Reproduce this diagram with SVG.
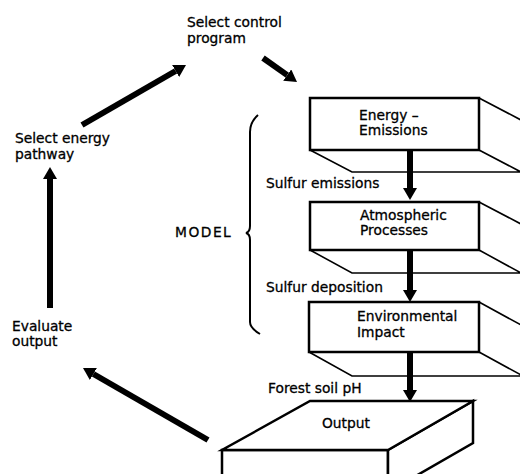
<svg xmlns="http://www.w3.org/2000/svg" width="520" height="474" viewBox="0 0 520 474">
<defs>
<marker id="head" viewBox="0 0 12 14" refX="0" refY="7" markerUnits="userSpaceOnUse" markerWidth="12" markerHeight="14" orient="auto">
<path d="M0,0 L12,7 L0,14 z" fill="#000"/>
</marker>
<style>
text{font-family:"DejaVu Sans","Liberation Sans",sans-serif;font-size:13.8px;fill:#000;stroke:#000;stroke-width:0.3}
.face{fill:#fff;stroke:#000;stroke-width:2.5;stroke-linejoin:miter}
.ext{fill:none;stroke:#000;stroke-width:1.6}
.arr{fill:none;stroke:#000;stroke-width:6;marker-end:url(#head)}
.brace{fill:none;stroke:#000;stroke-width:2}
</style>
</defs>
<rect width="520" height="474" fill="#fff"/>

<g id="connectors">
<line class="arr" x1="50" y1="308" x2="50" y2="179"/>
<line class="arr" x1="82" y1="125" x2="175.6" y2="71"/>
<line class="arr" x1="263" y1="58" x2="287.2" y2="75.1"/>
<line class="arr" x1="208" y1="440" x2="93.4" y2="374"/>
</g>

<g id="box-energy">
<path class="ext" d="M310,150 L352,172 L530,172 M479,150 L521,172 M479,98 L521,120"/>
<rect class="face" x="310" y="98" width="169" height="52"/>
<text x="359" y="120">Energy  –</text>
<text x="359" y="135">Emissions</text>
</g>

<g id="box-atmos">
<path class="ext" d="M310,250 L352,273 L530,273 M479,250 L521,273 M479,202 L521,224"/>
<rect class="face" x="310" y="202" width="169" height="48"/>
<text x="360" y="220">Atmospheric</text>
<text x="360" y="235">Processes</text>
</g>

<g id="box-env">
<path class="ext" d="M309,352 L352,376 L530,376 M479,352 L521,375 M479,302 L521,325"/>
<rect class="face" x="309" y="302" width="170" height="50"/>
<text x="357" y="321">Environmental</text>
<text x="357" y="337">Impact</text>
</g>

<g id="box-output">
<polygon class="face" stroke-width="2" points="222,450 388,450 388,500 222,500"/>
<polygon class="face" stroke-width="2" points="473,401 473,443 388,492 388,450"/>
<polygon class="face" stroke-width="2" points="310,401 473,401 388,450 222,450"/>
<text x="322" y="428">Output</text>
</g>

<g id="box-arrows">
<line class="arr" x1="410" y1="150" x2="410" y2="188"/>
<line class="arr" x1="410" y1="250" x2="410" y2="290"/>
<line class="arr" x1="410" y1="352" x2="410" y2="390"/>
</g>

<g id="labels">
<text x="187" y="27">Select control</text>
<text x="187" y="43">program</text>
<text x="15" y="143">Select energy</text>
<text x="15" y="159">pathway</text>
<text x="12" y="331">Evaluate</text>
<text x="12" y="346">output</text>
<text x="175" y="237" letter-spacing="1.5">MODEL</text>
<text x="266" y="188">Sulfur emissions</text>
<text x="266" y="292">Sulfur deposition</text>
<text x="268" y="393">Forest soil pH</text>
</g>

<g id="model-brace">
<path class="brace" d="M258,115 Q250,122 250,132 L250,226 Q250,232 246,233 Q250,234 250,240 L250,322 Q250,328 260,334"/>
</g>
</svg>
